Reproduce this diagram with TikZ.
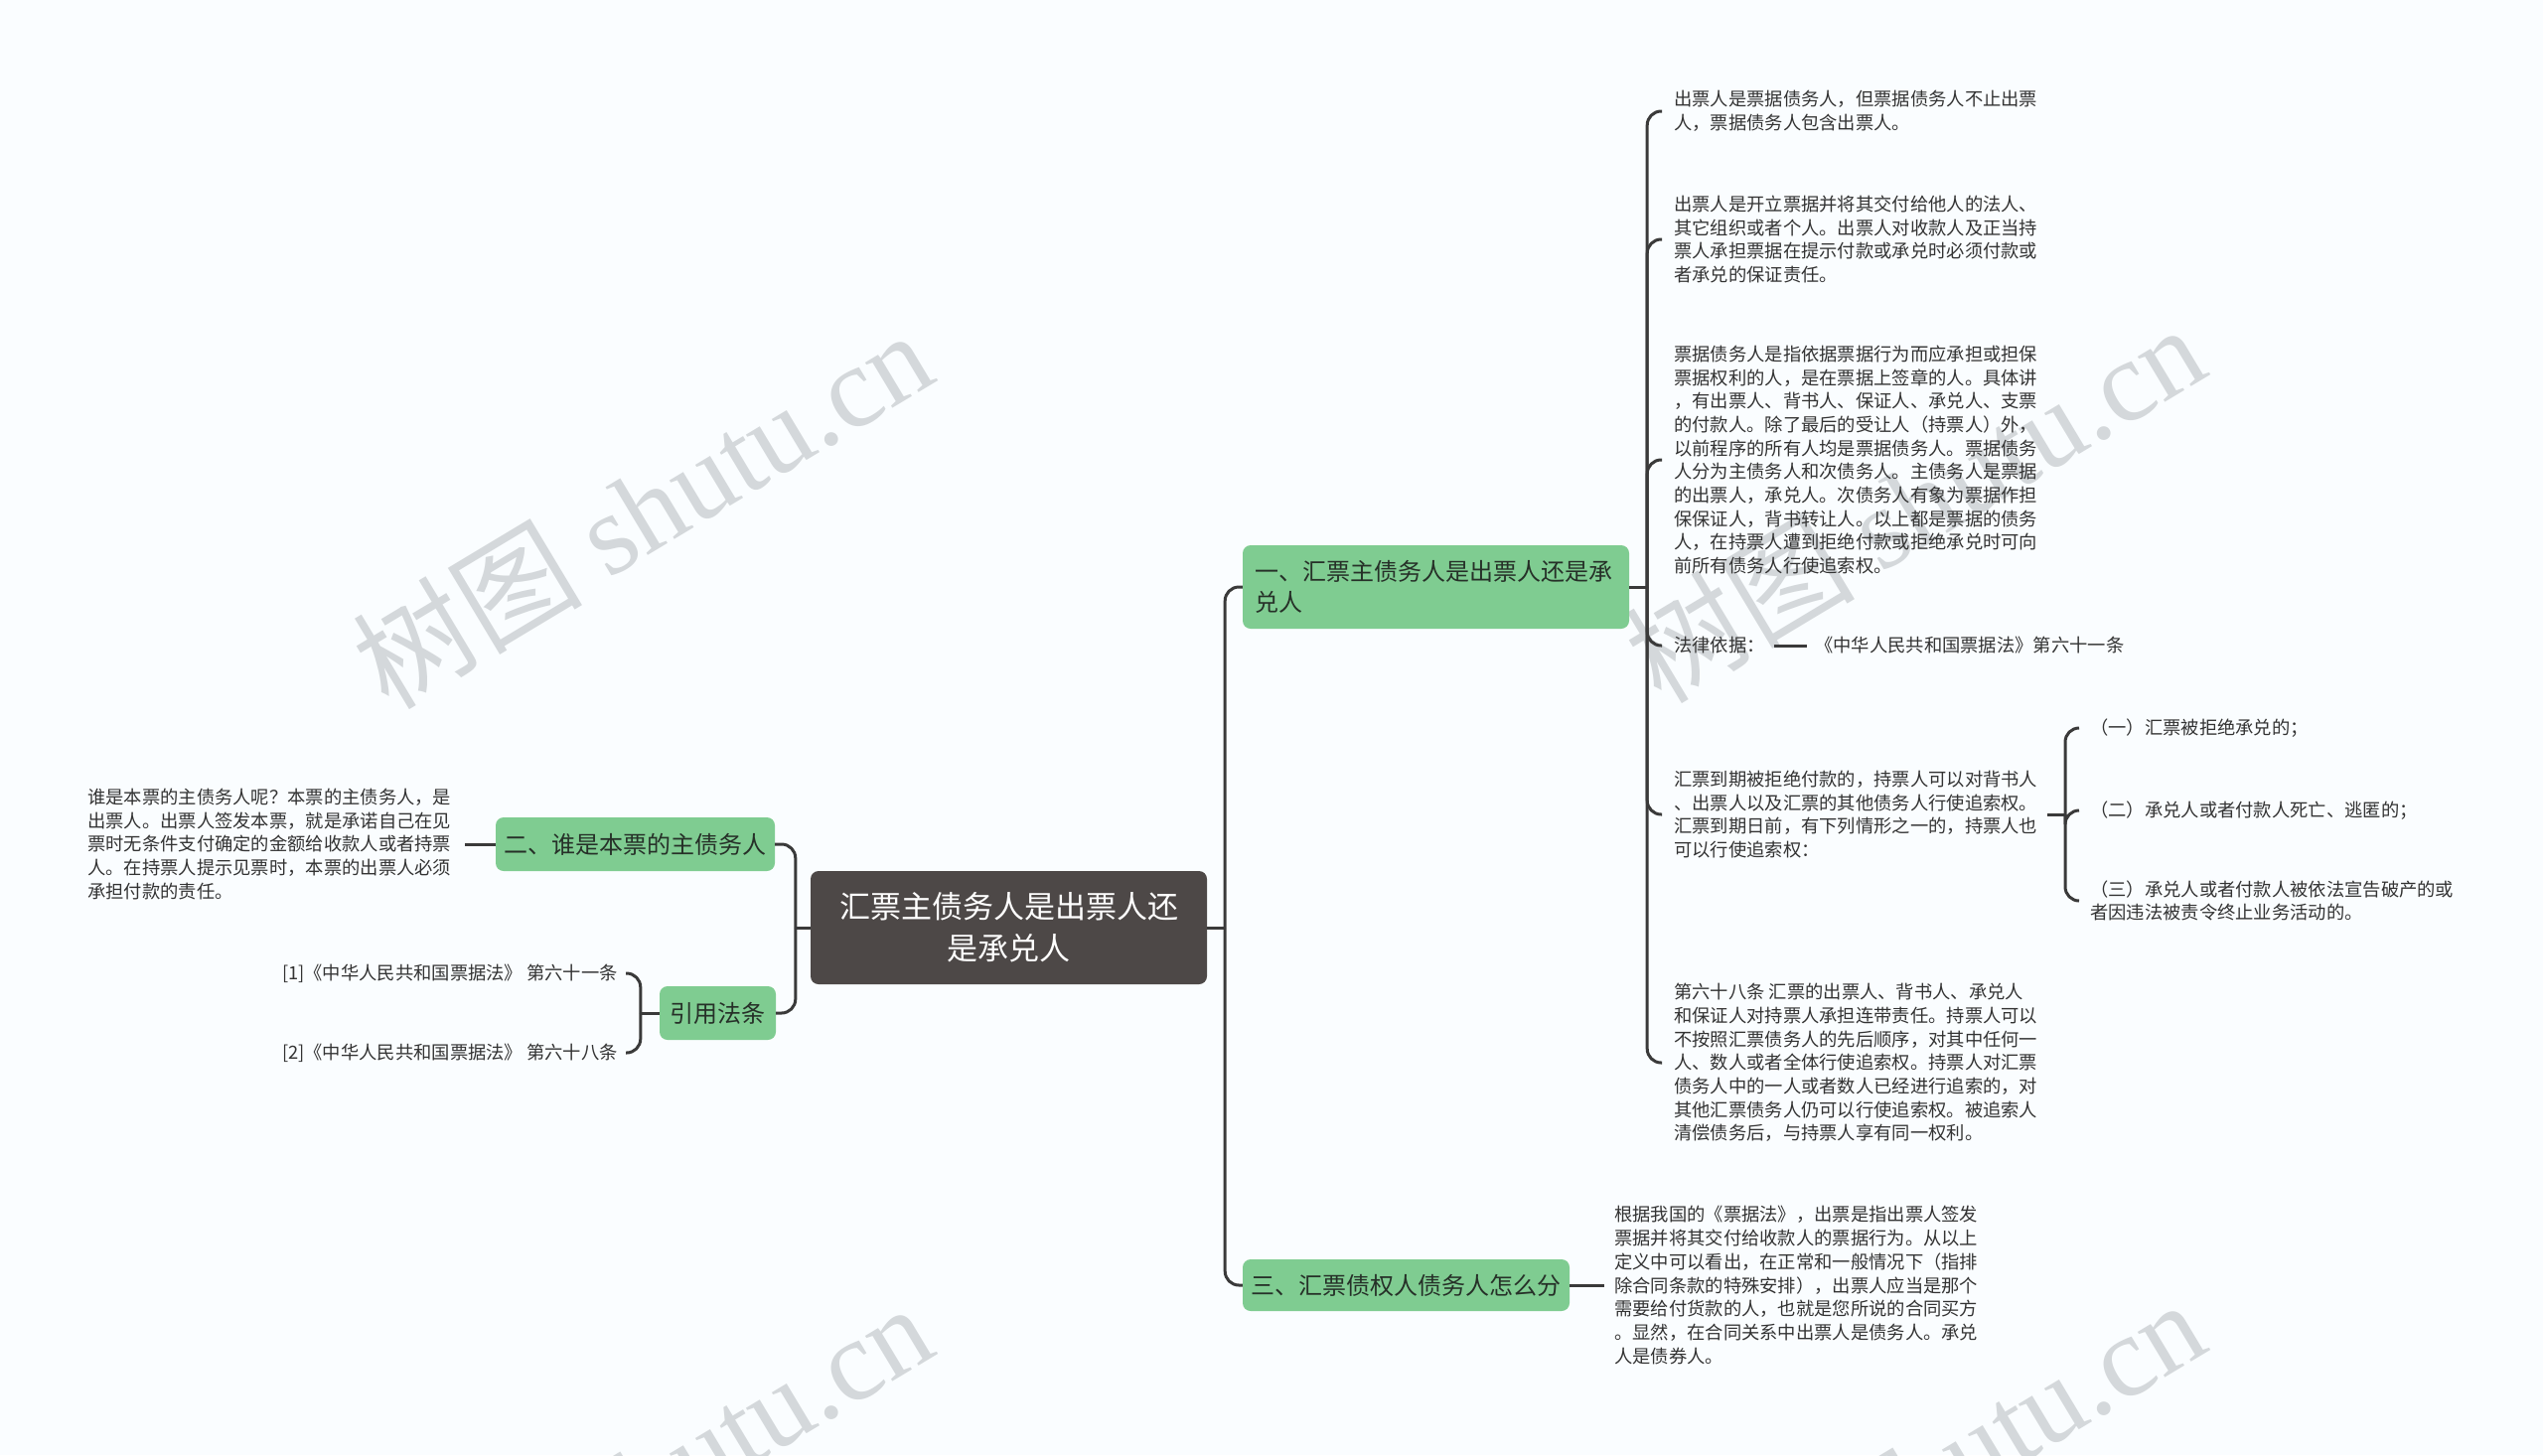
\documentclass[tikz,border=0pt]{standalone}
\usepackage{fontspec}
\setmainfont{Noto Sans CJK SC}
\newfontfamily\wmlat{Liberation Serif}
\newfontfamily\wmcjk{Noto Sans CJK SC}
\definecolor{bg}{RGB}{250,253,255}
\definecolor{grn}{RGB}{127,204,145}
\definecolor{darkbox}{RGB}{77,72,71}
\definecolor{lineC}{RGB}{58,58,58}
\definecolor{txt}{RGB}{51,51,51}
\definecolor{brtxt}{RGB}{38,48,40}
\definecolor{wm}{RGB}{212,216,219}
\tikzset{
  leaf/.style={font=\fontsize{18.3}{23.7}\selectfont, text=txt, align=left, inner sep=0pt, anchor=west},
  leafe/.style={font=\fontsize{18.3}{23.7}\selectfont, text=txt, align=left, inner sep=0pt, anchor=east},
  br/.style={fill=grn, rounded corners=8pt, text=brtxt, font=\fontsize{24}{31}\selectfont, inner sep=0pt, align=center},
  conn/.style={draw=lineC, line width=3pt, rounded corners=14pt},
  wmark/.style={text=wm, font=\fontsize{116}{116}\selectfont, rotate=31, inner sep=0pt}
}
\begin{document}
\begin{tikzpicture}[x=1pt,y=-1pt]
\useasboundingbox (0,0) rectangle (2560,1465);
\fill[bg] (0,0) rectangle (2560,1465);
\begin{scope}
\clip (0,0) rectangle (2560,1465);
\node[wmark] (wm1) at (646,512) {{\wmcjk 树图} {\wmlat shutu.cn}};
\node[wmark] (wm2) at (1927,506) {{\wmcjk 树图} {\wmlat shutu.cn}};
\node[wmark] (wm3) at (646,1492) {{\wmcjk 树图} {\wmlat shutu.cn}};
\node[wmark] (wm4) at (1927,1488) {{\wmcjk 树图} {\wmlat shutu.cn}};
\end{scope}

% central
\node[fill=darkbox, rounded corners=8pt, text=white, font=\fontsize{31}{42}\selectfont, align=center, minimum width=399pt, minimum height=114pt, inner sep=0pt] (c) at (1015.5,934) {汇票主债务人是出票人还\\是承兑人};

% branches
\node[br, minimum width=389pt, minimum height=84pt, text width=365pt, align=left] (b1) at (1445.5,591) {一、汇票主债务人是出票人还是承\\兑人};
\node[br, minimum width=281pt, minimum height=54pt] (b2) at (639.5,850) {二、谁是本票的主债务人};
\node[br, minimum width=117pt, minimum height=54pt] (ref) at (722.5,1020) {引用法条};
\node[br, minimum width=329pt, minimum height=52pt] (b3) at (1415.5,1294) {三、汇票债权人债务人怎么分};

% branch 1 children
\node[leaf] (ch1) at (1685,112) {出票人是票据债务人，但票据债务人不止出票\\人，票据债务人包含出票人。};
\node[leaf] (ch2) at (1685,241) {出票人是开立票据并将其交付给他人的法人、\\其它组织或者个人。出票人对收款人及正当持\\票人承担票据在提示付款或承兑时必须付款或\\者承兑的保证责任。};
\node[leaf] (ch3) at (1685,463) {票据债务人是指依据票据行为而应承担或担保\\票据权利的人，是在票据上签章的人。具体讲\\，有出票人、背书人、保证人、承兑人、支票\\的付款人。除了最后的受让人（持票人）外，\\以前程序的所有人均是票据债务人。票据债务\\人分为主债务人和次债务人。主债务人是票据\\的出票人，承兑人。次债务人有象为票据作担\\保保证人，背书转让人。以上都是票据的债务\\人，在持票人遭到拒绝付款或拒绝承兑时可向\\前所有债务人行使追索权。};
\node[leaf] (ch4) at (1685,650) {法律依据：};
\node[leaf] (law) at (1827,650) {《中华人民共和国票据法》第六十一条};
\node[leaf] (ch5) at (1685,820) {汇票到期被拒绝付款的，持票人可以对背书人\\、出票人以及汇票的其他债务人行使追索权。\\汇票到期日前，有下列情形之一的，持票人也\\可以行使追索权：};
\node[leaf] (ch6) at (1685,1070) {第六十八条 汇票的出票人、背书人、承兑人\\和保证人对持票人承担连带责任。持票人可以\\不按照汇票债务人的先后顺序，对其中任何一\\人、数人或者全体行使追索权。持票人对汇票\\债务人中的一人或者数人已经进行追索的，对\\其他汇票债务人仍可以行使追索权。被追索人\\清偿债务后，与持票人享有同一权利。};

% grandchildren
\node[leaf] (g1) at (2104,733) {（一）汇票被拒绝承兑的；};
\node[leaf] (g2) at (2104,816) {（二）承兑人或者付款人死亡、逃匿的；};
\node[leaf] (g3) at (2104,907) {（三）承兑人或者付款人被依法宣告破产的或\\者因违法被责令终止业务活动的。};
\coordinate (j5) at (2079,820);

% branch 2 child
\node[leaf] (lt) at (88,850) {谁是本票的主债务人呢？本票的主债务人，是\\出票人。出票人签发本票，就是承诺自己在见\\票时无条件支付确定的金额给收款人或者持票\\人。在持票人提示见票时，本票的出票人必须\\承担付款的责任。};

% references
\node[leafe] (r1) at (622,980) {[1]《中华人民共和国票据法》 第六十一条};
\node[leafe] (r2) at (622,1060) {[2]《中华人民共和国票据法》 第六十八条};

% branch 3 child
\node[leaf] (t3) at (1625,1294) {根据我国的《票据法》，出票是指出票人签发\\票据并将其交付给收款人的票据行为。从以上\\定义中可以看出，在正常和一般情况下（指排\\除合同条款的特殊安排），出票人应当是那个\\需要给付货款的人，也就是您所说的合同买方\\。显然，在合同关系中出票人是债务人。承兑\\人是债券人。};

% connectors
\draw[conn] (c.west) -- ++(-15,0);
\draw[conn] ([xshift=-15pt]c.west) |- (b2.east);
\draw[conn] ([xshift=-15pt]c.west) |- (ref.east);
\draw[conn] (c.east) -- ++(18,0);
\draw[conn] ([xshift=18pt]c.east) |- (b1.west);
\draw[conn] ([xshift=18pt]c.east) |- (b3.west);

\draw[conn] (b1.east) -- ++(18,0);
\foreach \n in {ch1,ch2,ch3,ch4,ch5,ch6}
  \draw[conn] ([xshift=18pt]b1.east) |- ([xshift=-12pt]\n.west);
\draw[conn] ([xshift=9pt]ch4.east) -- ([xshift=-8pt]law.west);

\draw[conn] ([xshift=10pt]ch5.east) -- (j5);
\foreach \n in {g1,g2,g3}
  \draw[conn] (j5) |- ([xshift=-11pt]\n.west);

\draw[conn] (b2.west) -- ([xshift=14pt]lt.east);

\draw[conn] (ref.west) -- ++(-19,0);
\draw[conn] ([xshift=-19pt]ref.west) |- ([xshift=8pt]r1.east);
\draw[conn] ([xshift=-19pt]ref.west) |- ([xshift=8pt]r2.east);

\draw[conn] (b3.east) -- ([xshift=-10pt]t3.west);
\end{tikzpicture}
\end{document}
